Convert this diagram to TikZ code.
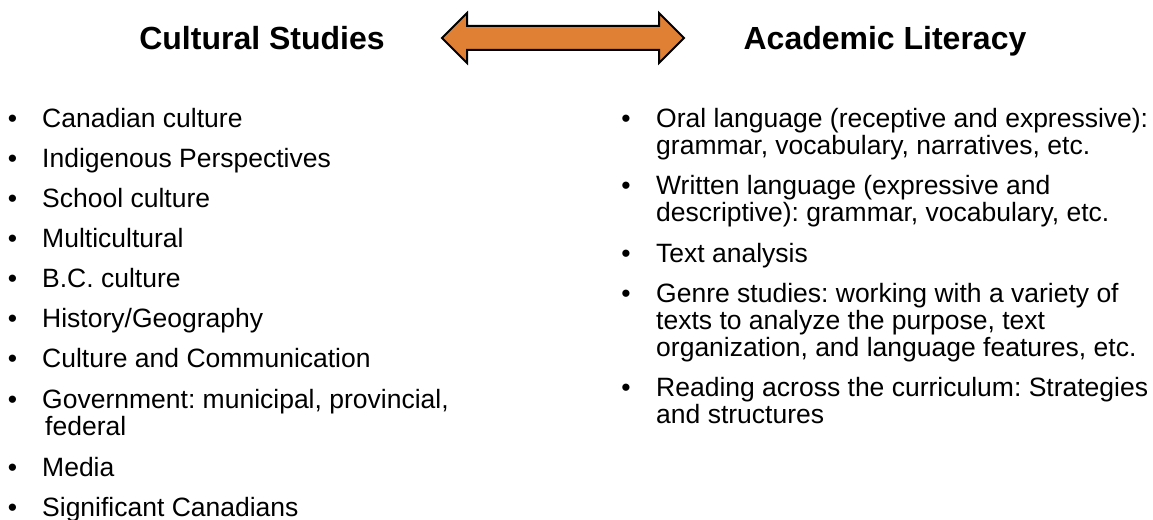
\documentclass[tikz,border=0pt]{standalone}
\usepackage{fontspec}
\setmainfont{Liberation Sans}
\definecolor{arroworange}{RGB}{224,128,52}
\frenchspacing
\begin{document}
\begin{tikzpicture}[x=1pt,y=-1pt,
  item/.style={anchor=north west,inner sep=0pt,align=left,font=\frenchspacing\fontsize{26.5}{27}\selectfont},
  bul/.style={anchor=base,inner sep=0pt,font=\fontsize{26.5}{27}\selectfont},
  head/.style={anchor=base,inner sep=0pt,font=\fontsize{32}{36}\selectfont\bfseries},
  bigarrow/.style={draw=black,line width=2pt,fill=arroworange,line join=miter}]
\useasboundingbox (0,0) rectangle (1153,519);
% headings
\node[head] (hl) at (262,49) {Cultural Studies};
\node[head] (hr) at (885,49) {Academic Literacy};
% double arrow
\draw[bigarrow] (442,38) -- (467,13) -- (467,26) -- (659,26) -- (659,13) -- (684,38)
  -- (659,63) -- (659,50) -- (467,50) -- (467,63) -- cycle;
% left list (y = baseline of first line; text node top = baseline - ascent)
\def\asc{19}
\foreach \y/\t [count=\i] in {127/Canadian culture,167/Indigenous Perspectives,207/School culture,247/Multicultural,287/B.C. culture,327/History\slash Geography,367/Culture and Communication}{
  \node[bul] (lb\i) at (12.5,\y) {•};
  \node[item, anchor=base west] (li\i) at (42,\y) {\t};
}
\node[bul] (lb8) at (12.5,408) {•};
\node[item, anchor=base west] (li8) at (42,435) {Government: municipal, provincial,\\\hspace{3pt}federal};
\node[bul] (lb9) at (12.5,476) {•};
\node[item, anchor=base west] (li9) at (42,476) {Media};
\node[bul] (lb10) at (12.5,516) {•};
\node[item, anchor=base west] (li10) at (42,516) {Significant Canadians};
% right list (anchor base west = baseline of last line)
\node[bul] (rb1) at (626,127) {•};
\node[item, anchor=base west] (ri1) at (656,154) {Oral language (receptive and expressive):\\grammar, vocabulary, narratives, etc.};
\node[bul] (rb2) at (626,194) {•};
\node[item, anchor=base west] (ri2) at (656,221) {Written language (expressive and\\descriptive): grammar, vocabulary, etc.};
\node[bul] (rb3) at (626,262) {•};
\node[item, anchor=base west] (ri3) at (656,262) {Text analysis};
\node[bul] (rb4) at (626,302) {•};
\node[item, anchor=base west] (ri4) at (656,356) {Genre studies: working with a variety of\\texts to analyze the purpose, text\\organization, and language features, etc.};
\node[bul] (rb5) at (626,396) {•};
\node[item, anchor=base west] (ri5) at (656,423) {Reading across the curriculum: Strategies\\and structures};
\end{tikzpicture}
\end{document}
